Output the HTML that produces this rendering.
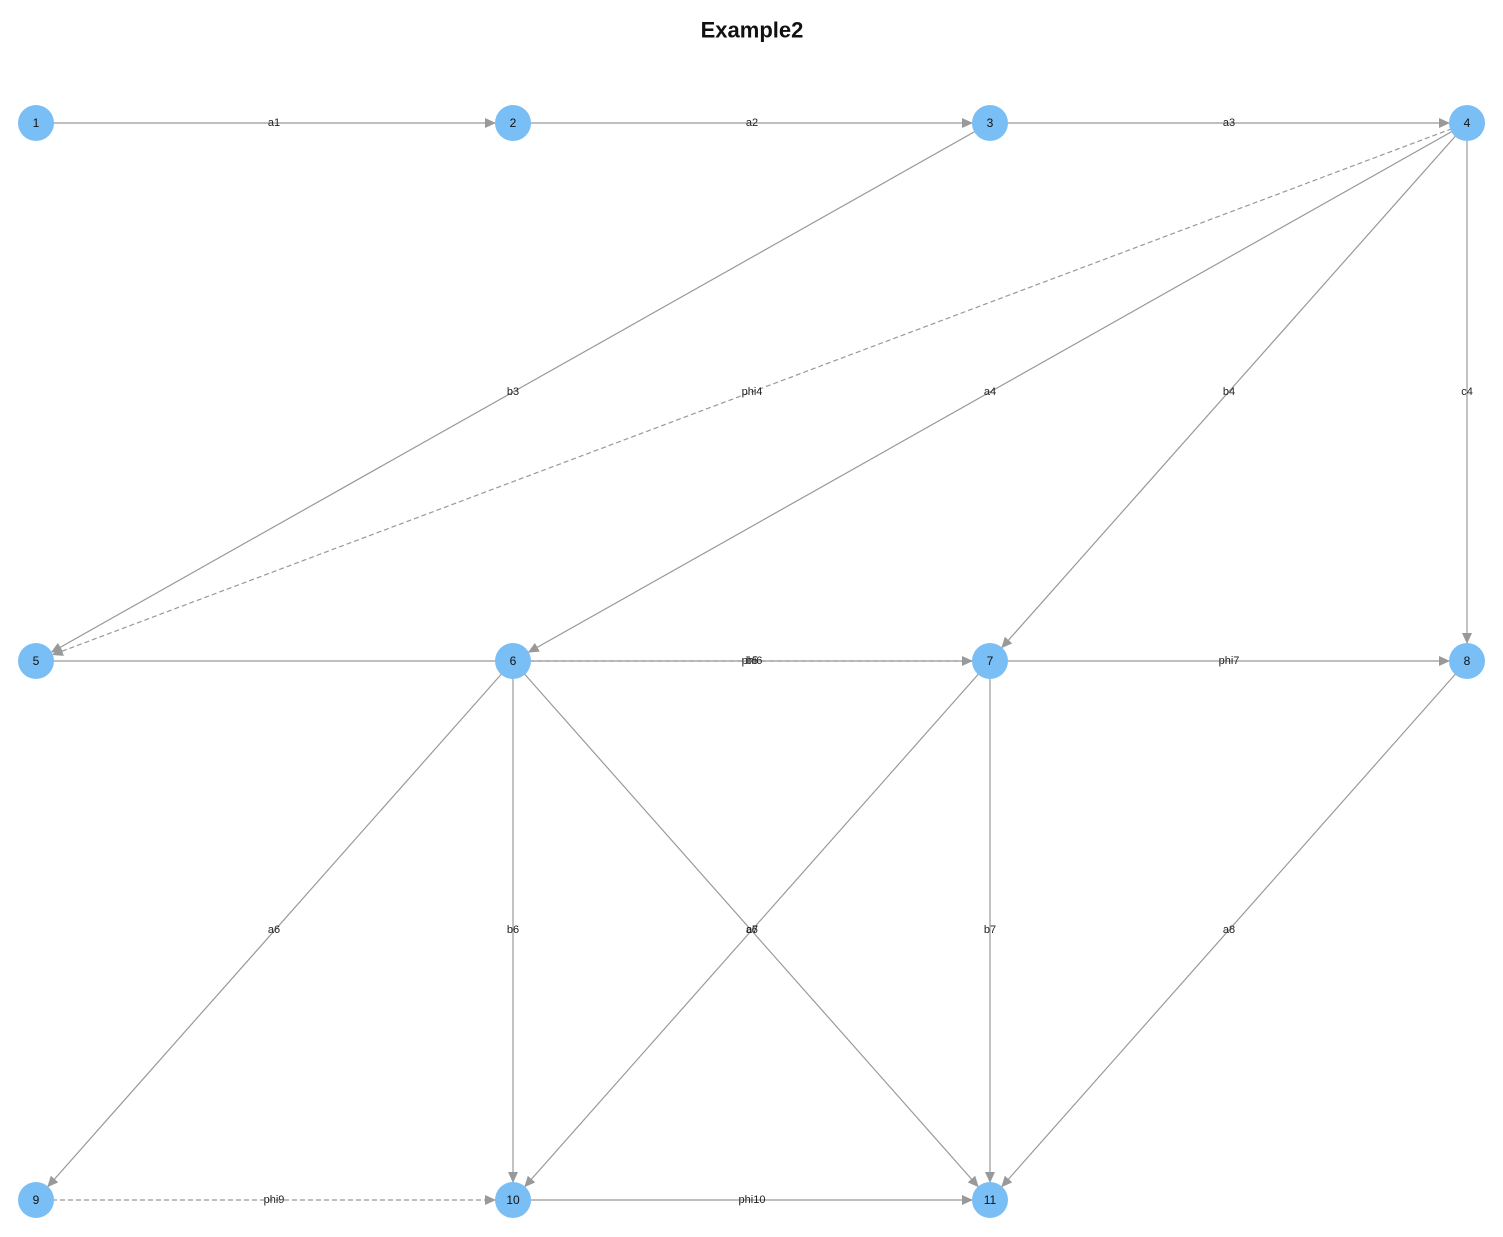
<!DOCTYPE html>
<html><head><meta charset="utf-8"><style>
html,body{margin:0;padding:0;background:#fff;}
svg{display:block;font-family:"Liberation Sans",Helvetica,Arial,sans-serif;}
.e{stroke:#999;stroke-width:1.2;fill:none;}
.d{stroke-dasharray:5,3;}
.l{font-size:11px;fill:#222;text-anchor:middle;dominant-baseline:central;}
.n{fill:#7abef6;}
.t{font-size:12px;fill:#111;text-anchor:middle;dominant-baseline:central;}
</style></head><body>
<svg width="1503" height="1237" viewBox="0 0 1503 1237">
<defs>
<marker id="a" markerUnits="userSpaceOnUse" markerWidth="40" markerHeight="12" viewBox="0 0 40 12" refX="28" refY="5" orient="auto">
<path d="M0,0 L11,5 L0,10 z" fill="#999"/>
</marker>
</defs>
<text x="752" y="30" text-anchor="middle" dominant-baseline="central" font-size="22" font-weight="bold" fill="#111">Example2</text>

<line class="e" x1="36" y1="123" x2="513" y2="123" marker-end="url(#a)"/>
<line class="e" x1="513" y1="123" x2="990" y2="123" marker-end="url(#a)"/>
<line class="e" x1="990" y1="123" x2="1467" y2="123" marker-end="url(#a)"/>
<line class="e" x1="990" y1="123" x2="36" y2="661" marker-end="url(#a)"/>
<line class="e d" x1="1467" y1="123" x2="36" y2="661" marker-end="url(#a)"/>
<line class="e" x1="1467" y1="123" x2="513" y2="661" marker-end="url(#a)"/>
<line class="e" x1="1467" y1="123" x2="990" y2="661" marker-end="url(#a)"/>
<line class="e" x1="1467" y1="123" x2="1467" y2="661" marker-end="url(#a)"/>
<line class="e" x1="513" y1="661" x2="36" y2="661"/>
<line class="e" x1="513" y1="661" x2="990" y2="661" marker-end="url(#a)"/>
<line class="e d" x1="513" y1="661" x2="990" y2="661"/>
<line class="e" x1="990" y1="661" x2="1467" y2="661" marker-end="url(#a)"/>
<line class="e" x1="513" y1="661" x2="36" y2="1200" marker-end="url(#a)"/>
<line class="e" x1="513" y1="661" x2="513" y2="1200" marker-end="url(#a)"/>
<line class="e" x1="513" y1="661" x2="990" y2="1200" marker-end="url(#a)"/>
<line class="e" x1="990" y1="661" x2="513" y2="1200" marker-end="url(#a)"/>
<line class="e" x1="990" y1="661" x2="990" y2="1200" marker-end="url(#a)"/>
<line class="e" x1="1467" y1="661" x2="990" y2="1200" marker-end="url(#a)"/>
<line class="e d" x1="36" y1="1200" x2="513" y2="1200" marker-end="url(#a)"/>
<line class="e" x1="513" y1="1200" x2="990" y2="1200" marker-end="url(#a)"/>

<text class="l" x="274" y="123">a1</text>
<text class="l" x="752" y="123">a2</text>
<text class="l" x="1229" y="123">a3</text>
<text class="l" x="513" y="392">b3</text>
<text class="l" x="752" y="392">phi4</text>
<text class="l" x="990" y="392">a4</text>
<text class="l" x="1229" y="392">b4</text>
<text class="l" x="1467" y="392">c4</text>
<text class="l" x="752" y="661">phi6</text>
<text class="l" x="752" y="661">b5</text>
<text class="l" x="1229" y="661">phi7</text>
<text class="l" x="274" y="930">a6</text>
<text class="l" x="513" y="930">b6</text>
<text class="l" x="752" y="930">c6</text>
<text class="l" x="752" y="930">a7</text>
<text class="l" x="990" y="930">b7</text>
<text class="l" x="1229" y="930">a8</text>
<text class="l" x="274" y="1200">phi9</text>
<text class="l" x="752" y="1200">phi10</text>

<circle class="n" cx="36" cy="123" r="18"/><text class="t" x="36" y="123">1</text>
<circle class="n" cx="513" cy="123" r="18"/><text class="t" x="513" y="123">2</text>
<circle class="n" cx="990" cy="123" r="18"/><text class="t" x="990" y="123">3</text>
<circle class="n" cx="1467" cy="123" r="18"/><text class="t" x="1467" y="123">4</text>
<circle class="n" cx="36" cy="661" r="18"/><text class="t" x="36" y="661">5</text>
<circle class="n" cx="513" cy="661" r="18"/><text class="t" x="513" y="661">6</text>
<circle class="n" cx="990" cy="661" r="18"/><text class="t" x="990" y="661">7</text>
<circle class="n" cx="1467" cy="661" r="18"/><text class="t" x="1467" y="661">8</text>
<circle class="n" cx="36" cy="1200" r="18"/><text class="t" x="36" y="1200">9</text>
<circle class="n" cx="513" cy="1200" r="18"/><text class="t" x="513" y="1200">10</text>
<circle class="n" cx="990" cy="1200" r="18"/><text class="t" x="990" y="1200">11</text>
</svg>
</body></html>
